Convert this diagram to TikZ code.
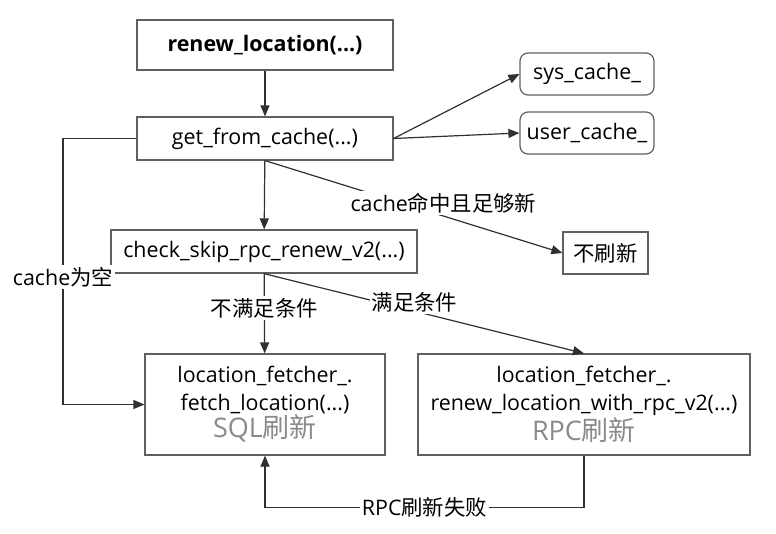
\documentclass[tikz,border=0pt]{standalone}
\usepackage{fontspec}
\setmainfont{Open Sans}
\newfontfamily\cjk{Noto Sans CJK SC}
\usetikzlibrary{arrows.meta}
\definecolor{boxline}{HTML}{606060}
\definecolor{arrline}{HTML}{303030}
\definecolor{note}{HTML}{8A8A8A}
\begin{document}
\begin{tikzpicture}[x=.5pt,y=-.5pt,
  font=\fontsize{10.7}{13.8}\selectfont,
  box/.style={draw=boxline,line width=.6pt,inner sep=0pt,align=center},
  rbox/.style={box,rounded corners=4pt},
  arr/.style={draw=arrline,line width=.6pt,-{Triangle[length=5.5pt,width=4.5pt]}},
  lbl/.style={fill=white,inner sep=1pt}]
\useasboundingbox (0,0) rectangle (776,534);
\node[box,minimum width=128pt,minimum height=25pt,font=\fontsize{10.7}{13.8}\selectfont\bfseries] (renew) at (265,45) {renew\_location(...)};
\node[box,minimum width=128pt,minimum height=21.5pt] (cache) at (265,138.5) {get\_from\_cache(...)};
\node[rbox,minimum width=67pt,minimum height=21pt] (sys) at (587,74) {sys\_cache\_};
\node[rbox,minimum width=67pt,minimum height=21pt] (user) at (587,133) {user\_cache\_};
\node[box,minimum width=153pt,minimum height=21.5pt] (check) at (264,251.5) {check\_skip\_rpc\_renew\_v2(...)};
\node[box,minimum width=42.5pt,minimum height=21pt] (noref) at (605.5,253) {\cjk 不刷新};
\node[box,minimum width=120pt,minimum height=50.5pt] (sql) at (265,404.5)
  {location\_fetcher\_.\\fetch\_location(...)\\{\color{note}\fontsize{13.5}{13.8}\selectfont SQL{\cjk 刷新}}};
\node[box,minimum width=166pt,minimum height=50.5pt] (rpc) at (584,404.5)
  {location\_fetcher\_.\\renew\_location\_with\_rpc\_v2(...)\\{\color{note}\fontsize{13.5}{13.8}\selectfont RPC{\cjk 刷新}}};
%%%%
\draw[arr] (renew) -- (cache);
\draw[arr] (cache.east) -- (sys.west);
\draw[arr] (cache.east) -- (user.west);
\draw[arr] (cache) -- (check);
\draw[arr] (cache.south) -- node[lbl,pos=.6,yshift=6.5pt] {cache{\cjk 命中且足够新}} (noref.west);
\coordinate (turn) at (63,138.5);
\draw[arr] (cache.west) -- (turn) |- node[lbl,pos=.26] {cache{\cjk 为空}} (sql.west);
\draw[arr] (check) -- node[lbl,pos=.43] {\cjk 不满足条件} (sql);
\draw[arr] (check.south) -- node[lbl,pos=.47,yshift=4.5pt] {\cjk 满足条件} (rpc.north);
\draw[arr] (rpc.south) -- ++(0,52) -| node[lbl,pos=.25] {RPC{\cjk 刷新失败}} (sql.south);
\end{tikzpicture}
\end{document}
